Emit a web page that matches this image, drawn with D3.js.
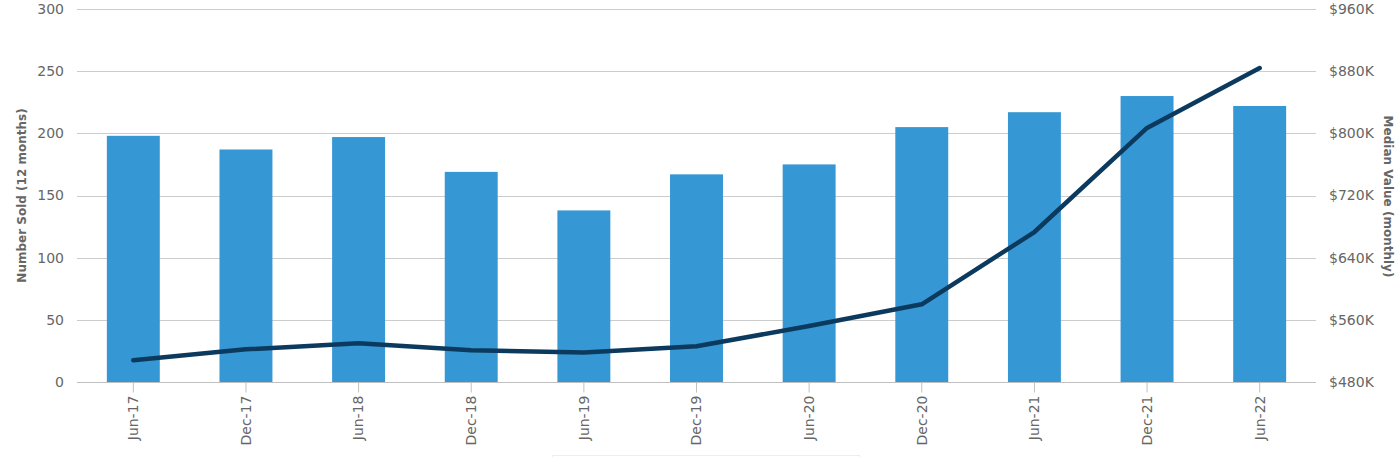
<!DOCTYPE html>
<html lang="en">
  <head>
    <script src="https://d3js.org/d3.v7.min.js"></script>
    <meta charset="utf-8">
    <style>
      body { margin: 0; background: #fff; }
      text { font-family: "DejaVu Sans", sans-serif; }
    </style>
  </head>
  <body>
    <svg id="chart"></svg>
    <script>
      var categories = ["Jun-17", "Dec-17", "Jun-18", "Dec-18", "Jun-19", "Dec-19",
                        "Jun-20", "Dec-20", "Jun-21", "Dec-21", "Jun-22"];
      var numberSold = [198, 187, 197, 169, 138, 167, 175, 205, 217, 230, 222];
      var medianValue = [508, 522, 530, 521, 518, 526, 552, 580, 673, 807, 884];
      var leftTicks = [0, 50, 100, 150, 200, 250, 300];
      var rightTicks = [480, 560, 640, 720, 800, 880, 960];

      var width = 1400, height = 457;
      var plotLeft = 77, plotRight = 1316, plotTop = 9, plotBottom = 382;

      var svg = d3.select("#chart").attr("width", width).attr("height", height);

      var x = d3.scaleBand().domain(categories).range([plotLeft, plotRight]).paddingInner(0.53).paddingOuter(0.265);
      var yL = d3.scaleLinear().domain([0, 300]).range([plotBottom, plotTop]);
      var yR = d3.scaleLinear().domain([480, 960]).range([plotBottom, plotTop]);

      // gridlines
      svg.append("g")
        .selectAll("line")
        .data(leftTicks.slice(1))
        .enter()
        .append("line")
        .attr("x1", plotLeft).attr("x2", plotRight)
        .attr("y1", function(d) { return Math.round(yL(d)) + 0.5; })
        .attr("y2", function(d) { return Math.round(yL(d)) + 0.5; })
        .attr("stroke", "#cccccc");

      // bars
      svg.append("g")
        .selectAll("rect")
        .data(numberSold)
        .enter()
        .append("rect")
        .attr("x", function(d, i) { return x(categories[i]); })
        .attr("y", function(d) { return yL(d); })
        .attr("width", x.bandwidth())
        .attr("height", function(d) { return plotBottom - yL(d); })
        .attr("fill", "#3597d4");

      // x axis
      var xAxis = svg.append("g")
        .attr("transform", "translate(0," + (plotBottom + 0.5) + ")")
        .call(d3.axisBottom(x).tickSize(10).tickPadding(6));
      xAxis.select(".domain").attr("stroke", "#c0c0c0").attr("d", "M" + plotLeft + ",0H" + plotRight);
      xAxis.selectAll(".tick line").attr("stroke", "#c0c0c0");
      xAxis.selectAll(".tick text")
        .attr("transform", "rotate(-90)")
        .attr("text-anchor", "end")
        .attr("x", -13).attr("y", 0).attr("dy", "0.35em")
        .attr("fill", "#666666")
        .style("font-size", "14px");

      // left axis
      var lAxis = svg.append("g")
        .attr("transform", "translate(" + plotLeft + ",0)")
        .call(d3.axisLeft(yL).tickValues(leftTicks).tickSize(0).tickPadding(13));
      lAxis.select(".domain").remove();
      lAxis.selectAll("text").attr("fill", "#666666").style("font-size", "14px");

      // right axis
      var rAxis = svg.append("g")
        .attr("transform", "translate(" + plotRight + ",0)")
        .call(d3.axisRight(yR).tickValues(rightTicks).tickSize(0).tickPadding(13)
          .tickFormat(function(d) { return "$" + d + "K"; }));
      rAxis.select(".domain").remove();
      rAxis.selectAll("text").attr("fill", "#666666").style("font-size", "14px");

      // axis titles
      svg.append("text")
        .attr("transform", "translate(26," + ((plotTop + plotBottom) / 2) + ") rotate(-90)")
        .attr("text-anchor", "middle")
        .attr("fill", "#666666")
        .style("font-size", "12px")
        .style("font-weight", "bold")
        .text("Number Sold (12 months)");
      svg.append("text")
        .attr("transform", "translate(1384," + ((plotTop + plotBottom) / 2 + 1) + ") rotate(90)")
        .attr("text-anchor", "middle")
        .attr("fill", "#666666")
        .style("font-size", "12px")
        .style("font-weight", "bold")
        .text("Median Value (monthly)");

      // line
      var line = d3.line()
        .x(function(d, i) { return x(categories[i]) + x.bandwidth() / 2; })
        .y(function(d) { return yR(d); });
      svg.append("path")
        .datum(medianValue)
        .attr("d", line)
        .attr("fill", "none")
        .attr("stroke", "#0c3a5e")
        .attr("stroke-width", 4.5)
        .attr("stroke-linecap", "round")
        .attr("stroke-linejoin", "round");

      // legend box edge (cut off at bottom)
      svg.append("rect")
        .attr("x", 552.5).attr("y", 455.5)
        .attr("width", 307).attr("height", 30)
        .attr("fill", "none")
        .attr("stroke", "#eeeeee");
    </script>
  </body>
</html>
